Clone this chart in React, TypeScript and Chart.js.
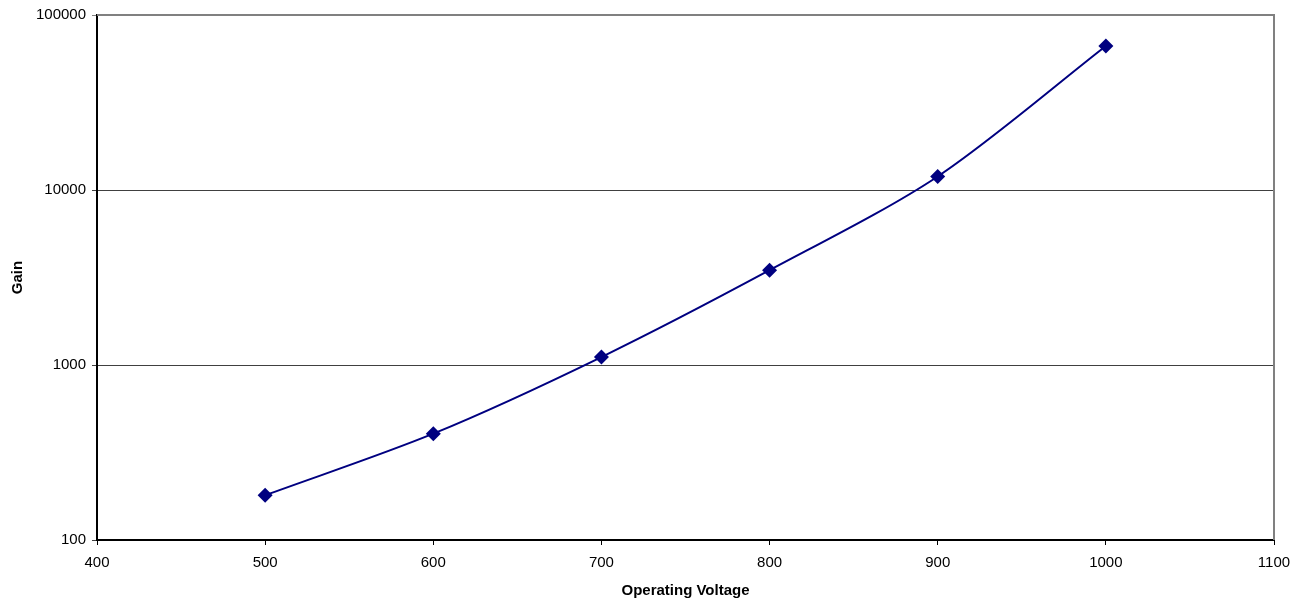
import React, { useEffect, useRef } from "react";
import { Chart, registerables } from "chart.js";

Chart.register(...registerables);

const voltages = [500, 600, 700, 800, 900, 1000];
const gains = [180, 405, 1110, 3480, 11950, 66500];
const yTicks = [100, 1000, 10000, 100000];
const xTitle = "Operating Voltage";
const yTitle = "Gain";

const borderPlugin = {
  id: "outerBorder",
  afterDraw(chart: any) {
    const { ctx, chartArea } = chart;
    ctx.save();
    ctx.strokeStyle = "#808080";
    ctx.lineWidth = 2;
    ctx.beginPath();
    ctx.moveTo(chartArea.left, chartArea.top);
    ctx.lineTo(chartArea.right, chartArea.top);
    ctx.lineTo(chartArea.right, chartArea.bottom);
    ctx.stroke();
    ctx.restore();
  },
};

export default function App() {
  const ref = useRef<HTMLCanvasElement>(null);
  useEffect(() => {
    document.body.style.margin = "0";
    const chart = new Chart(ref.current!, {
      type: "line",
      data: {
        datasets: [
          {
            data: voltages.map((v, i) => ({ x: v, y: gains[i] })),
            borderColor: "#000080",
            backgroundColor: "#000080",
            borderWidth: 2,
            pointStyle: "rectRot",
            pointRadius: 7.5,
            pointBorderWidth: 0,
            tension: 0.3,
          },
        ],
      },
      options: {
        animation: false,
        responsive: false,
        maintainAspectRatio: false,
        layout: { padding: { top: 13, right: 34, left: 0, bottom: 0 } },
        plugins: { legend: { display: false }, tooltip: { enabled: false } },
        scales: {
          x: {
            type: "linear",
            min: 400,
            max: 1100,
            ticks: {
              stepSize: 100,
              color: "#000",
              padding: 9,
              font: { family: "Liberation Sans, Arial", size: 15 },
              callback: (v: any) => String(v),
            },
            grid: { drawOnChartArea: false, drawTicks: true, tickLength: 5, color: "#000" },
            border: { display: true, color: "#000", width: 2 },
            title: {
              display: true,
              text: xTitle,
              color: "#000",
              font: { family: "Liberation Sans, Arial", size: 15, weight: "bold" },
              padding: { top: 4, bottom: 0 },
            },
            afterFit(scale: any) {
              scale.height = 60;
            },
          },
          y: {
            type: "logarithmic",
            min: 100,
            max: 100000,
            afterBuildTicks(scale: any) {
              scale.ticks = yTicks.map((v) => ({ value: v }));
            },
            ticks: {
              color: "#000",
              padding: 6,
              font: { family: "Liberation Sans, Arial", size: 15 },
              callback: (v: any) => String(v),
            },
            grid: {
              drawTicks: true,
              tickLength: 5,
              color: (c: any) => (c.tick && c.tick.value === 100000 ? "#808080" : "#404040"),
              lineWidth: 1,
            },
            border: { display: true, color: "#000", width: 2 },
            title: {
              display: true,
              text: yTitle,
              color: "#000",
              font: { family: "Liberation Sans, Arial", size: 15, weight: "bold" },
              padding: { top: 9, bottom: 4 },
            },
            afterFit(scale: any) {
              scale.width = 97;
            },
          },
        },
      },
      plugins: [borderPlugin],
    } as any);
    return () => chart.destroy();
  }, []);
  return (
    <div style={{ width: 1308, height: 600, background: "#fff" }}>
      <canvas ref={ref} width={1308} height={600} style={{ display: "block" }} />
    </div>
  );
}
